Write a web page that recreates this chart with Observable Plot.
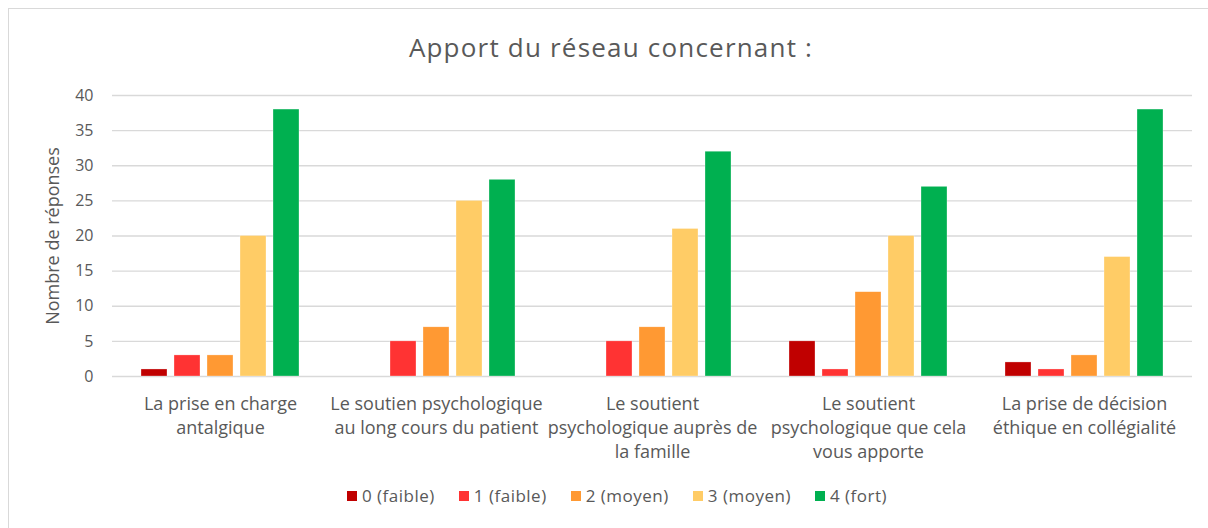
<!DOCTYPE html>
<html>
<head>
<meta charset="utf-8">
<script src="https://cdn.jsdelivr.net/npm/d3@7"></script>
<script src="https://cdn.jsdelivr.net/npm/@observablehq/plot@0.6"></script>
<style>
  html, body { margin: 0; padding: 0; background: #fff; }
  body { width: 1208px; height: 528px; position: relative; overflow: hidden; font-family: "Open Sans", sans-serif; }
  #frame { position: absolute; left: 8px; top: 8px; width: 1210px; height: 530px; border: 1.5px solid #d9d9d9; box-sizing: border-box; }
  #title { position: absolute; left: 0; top: 29px; width: 1222px; text-align: center; font-size: 26px; letter-spacing: 1.2px; color: #595959; }
  #chart { position: absolute; left: 0; top: 80px; }
  #ylabel { position: absolute; left: 52px; top: 236px; transform: translate(-50%, -50%) rotate(-90deg); white-space: nowrap; font-size: 18px; color: #595959; }
  #legend { position: absolute; left: 0; top: 484px; width: 1234px; display: flex; justify-content: center; gap: 24px; font-size: 17px; letter-spacing: 0.5px; color: #595959; }
  #legend .item { display: flex; align-items: center; gap: 5px; }
  #legend .sw { width: 10px; height: 10px; display: inline-block; }
</style>
</head>
<body>
<div id="frame"></div>
<div id="title">Apport du réseau concernant :</div>
<div id="chart"></div>
<div id="ylabel">Nombre de réponses</div>
<div id="legend"></div>
<script>
const categories = [
  "La prise en charge\nantalgique",
  "Le soutien psychologique\nau long cours du patient",
  "Le soutient\npsychologique auprès de\nla famille",
  "Le soutient\npsychologique que cela\nvous apporte",
  "La prise de décision\néthique en collégialité"
];
const seriesNames = ["0 (faible)", "1 (faible)", "2 (moyen)", "3 (moyen)", "4 (fort)"];
const seriesColors = ["#C00000", "#FF3333", "#FF9933", "#FFCC66", "#00B050"];
const s0 = [1, 0, 0, 5, 2];
const s1 = [3, 5, 5, 1, 1];
const s2 = [3, 7, 7, 12, 3];
const s3 = [20, 25, 21, 20, 17];
const s4 = [38, 28, 32, 27, 38];
const yTicks = [0, 5, 10, 15, 20, 25, 30, 35, 40];

const seriesValues = [s0, s1, s2, s3, s4];
const data = [];
categories.forEach((c, i) => {
  seriesNames.forEach((s, j) => {
    data.push({category: c, series: s, value: seriesValues[j][i]});
  });
});

const chart = Plot.plot({
  width: 1208,
  height: 385,
  marginTop: 15,
  marginBottom: 89,
  marginLeft: 111,
  marginRight: 16,
  style: {fontFamily: "Open Sans, sans-serif", fontSize: "16px", color: "#595959", background: "transparent"},
  fx: {domain: categories, padding: 0, label: null, axis: null},
  x: {domain: seriesNames, paddingInner: 0.2, paddingOuter: 0.87, axis: null},
  y: {domain: [0, 40], label: null, axis: null},
  color: {domain: seriesNames, range: seriesColors},
  marks: [
    Plot.gridY(yTicks, {stroke: "#d9d9d9", strokeOpacity: 1, strokeWidth: 1.3}),
    Plot.barY(data, {fx: "category", x: "series", y: "value", fill: "series", stroke: "white", strokeWidth: 0.5, strokeOpacity: 0.6}),
    Plot.axisY(yTicks, {tickSize: 0, tickPadding: 19, fontSize: 16, fill: "#595959", label: null}),
    Plot.axisFx({anchor: "bottom", tickSize: 0, tickPadding: 16, fontSize: 18, fill: "#595959", lineHeight: 1.333, label: null})
  ]
});
document.getElementById("chart").appendChild(chart);

const legend = document.getElementById("legend");
seriesNames.forEach((s, j) => {
  const item = document.createElement("div");
  item.className = "item";
  const sw = document.createElement("span");
  sw.className = "sw";
  sw.style.background = seriesColors[j];
  const t = document.createElement("span");
  t.textContent = s;
  item.appendChild(sw);
  item.appendChild(t);
  legend.appendChild(item);
});
</script>
</body>
</html>
